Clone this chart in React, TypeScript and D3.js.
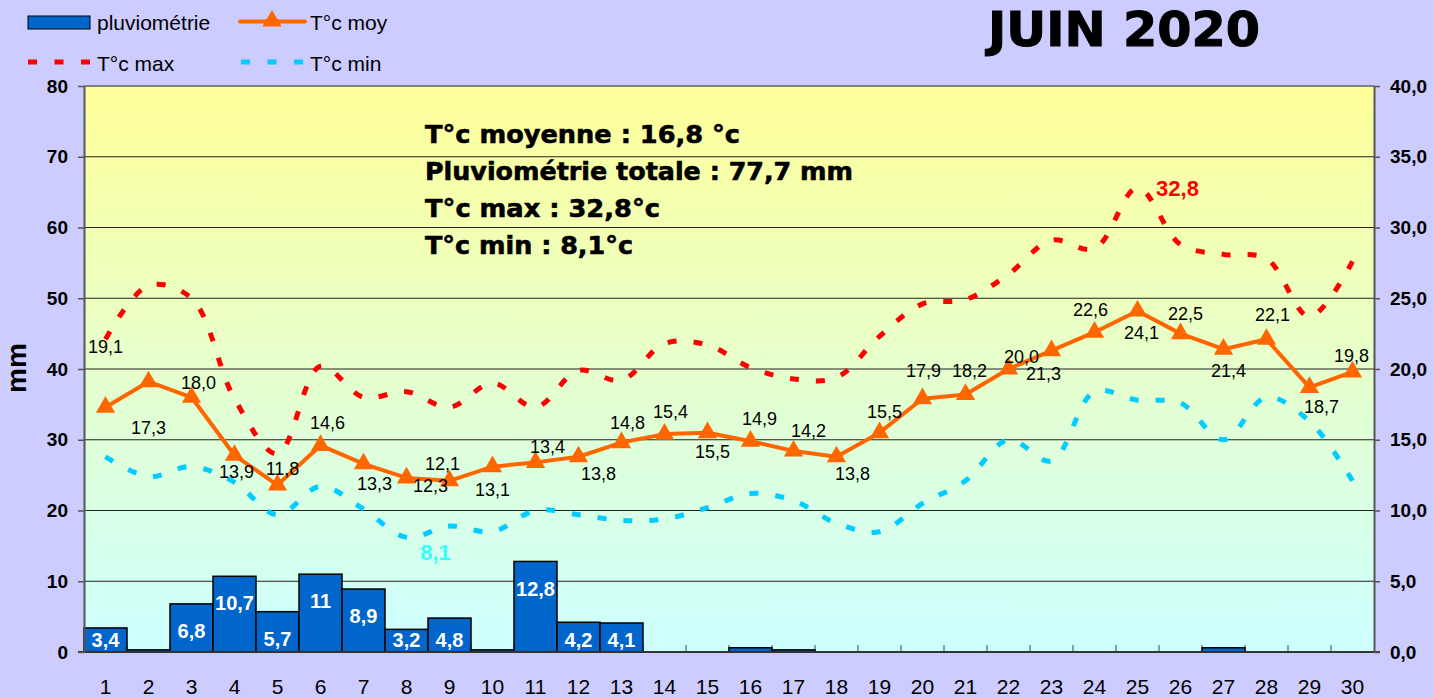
import React, { useEffect, useRef } from 'react';
import * as d3 from 'd3';

// June 2020 weather station summary
const days = ['1', '2', '3', '4', '5', '6', '7', '8', '9', '10', '11', '12', '13', '14', '15',
  '16', '17', '18', '19', '20', '21', '22', '23', '24', '25', '26', '27', '28', '29', '30'];

const rain = [3.4, 0.3, 6.8, 10.7, 5.7, 11, 8.9, 3.2, 4.8, 0.3, 12.8, 4.2, 4.1, 0, 0,
  0.6, 0.3, 0, 0, 0, 0, 0, 0, 0, 0, 0, 0.6, 0, 0, 0];

const tMoy = [17.3, 19.1, 18.0, 13.9, 11.8, 14.6, 13.3, 12.3, 12.1, 13.1, 13.4, 13.8, 14.8, 15.4, 15.5,
  14.9, 14.2, 13.8, 15.5, 17.9, 18.2, 20.0, 21.3, 22.6, 24.1, 22.5, 21.4, 22.1, 18.7, 19.8];

const tMax = [22.1, 25.9, 25.0, 17.9, 14.0, 20.2, 18.0, 18.4, 17.3, 19.0, 17.3, 19.9, 19.2, 21.8, 21.7,
  20.1, 19.3, 19.4, 22.3, 24.6, 24.9, 26.7, 29.1, 28.5, 32.8, 28.8, 28.1, 27.8, 23.7, 27.6];

const tMin = [13.8, 12.4, 13.1, 12.0, 9.7, 11.7, 10.1, 8.1, 8.9, 8.5, 10.0, 9.7, 9.3, 9.4, 10.2,
  11.2, 10.7, 9.1, 8.5, 10.5, 12.1, 15.0, 13.5, 18.4, 17.8, 17.6, 15.0, 18.0, 16.3, 12.1];

// labels as printed on the sheet (first two are swapped in the original)
const moyLabels = ['19,1', '17,3', '18,0', '13,9', '11,8', '14,6', '13,3', '12,3', '12,1', '13,1',
  '13,4', '13,8', '14,8', '15,4', '15,5', '14,9', '14,2', '13,8', '15,5', '17,9',
  '18,2', '20,0', '21,3', '22,6', '24,1', '22,5', '21,4', '22,1', '18,7', '19,8'];

const leftTicks = [0, 10, 20, 30, 40, 50, 60, 70, 80];
const rightTicks = [0, 5, 10, 15, 20, 25, 30, 35, 40];

const statLines = [
  'T°c moyenne : 16,8 °c',
  'Pluviométrie totale : 77,7 mm',
  'T°c max : 32,8°c',
  'T°c min : 8,1°c',
];

// layout nudges for the moy labels (px, relative to each point)
const labelNudge: [number, number][] = [
  [0, -61], [0, 46], [7, -15], [2, 16], [5, -17], [7, -23], [11, 20], [24, 8], [-7, -17], [0, 23],
  [12, -16], [20, 17], [6, -20], [6, -23], [5, 19], [9, -23], [15, -21], [16, 17], [5, -21], [1, -28],
  [4, -24], [13, -12], [-8, 23], [-4, -23], [4, 22], [5, -20], [5, 21], [6, -25], [12, 19], [-1, -16],
];

const W = 1433;
const H = 698;
const FONT = '"Liberation Sans", Arial, sans-serif';
const HEAVY = '"DejaVu Sans", "Liberation Sans", sans-serif';

const fmt1 = (v: number) => v.toFixed(1).replace('.', ',');

export default function App() {
  const svgRef = useRef<SVGSVGElement>(null);

  useEffect(() => {
    if (!svgRef.current) return;
    const svg = d3.select(svgRef.current);
    svg.selectAll('*').remove();

    const left = 84, right = 1374, top = 86, bottom = 652;

    const x = d3.scaleBand<string>().domain(days).range([left, right]).padding(0);
    const cx = (i: number) => (x(days[i]) as number) + x.bandwidth() / 2;
    const yL = d3.scaleLinear().domain([0, 80]).range([bottom, top]);
    const yR = d3.scaleLinear().domain([0, 40]).range([bottom, top]);

    // page background
    svg.append('rect').attr('width', W).attr('height', H).attr('fill', '#CCCCFF');

    const defs = svg.append('defs');
    const grad = defs.append('linearGradient').attr('id', 'plotBg')
      .attr('x1', 0).attr('y1', 0).attr('x2', 0).attr('y2', 1);
    grad.append('stop').attr('offset', '0%').attr('stop-color', '#FFFF99');
    grad.append('stop').attr('offset', '100%').attr('stop-color', '#CCFFFF');

    svg.append('rect')
      .attr('x', left).attr('y', top)
      .attr('width', right - left).attr('height', bottom - top)
      .attr('fill', 'url(#plotBg)');

    // gridlines
    svg.append('g').selectAll('line')
      .data(leftTicks.filter(t => t > 0 && t < 80))
      .enter().append('line')
      .attr('x1', left).attr('x2', right)
      .attr('y1', d => yL(d)).attr('y2', d => yL(d))
      .attr('stroke', '#222').attr('stroke-width', 1);

    svg.append('line')
      .attr('x1', left).attr('x2', right).attr('y1', top).attr('y2', top)
      .attr('stroke', '#808080').attr('stroke-width', 2);

    // category boundary ticks (inside)
    svg.append('g').selectAll('line')
      .data(days.slice(1))
      .enter().append('line')
      .attr('x1', d => x(d) as number).attr('x2', d => x(d) as number)
      .attr('y1', bottom).attr('y2', bottom - 7)
      .attr('stroke', '#444').attr('stroke-width', 1);

    // rain bars
    const barData = rain.map((v, i) => ({ v, i })).filter(d => d.v > 0);
    svg.append('g').selectAll('rect')
      .data(barData)
      .enter().append('rect')
      .attr('x', d => x(days[d.i]) as number)
      .attr('y', d => yL(d.v))
      .attr('width', x.bandwidth())
      .attr('height', d => bottom - yL(d.v))
      .attr('fill', '#0066CC')
      .attr('stroke', '#000')
      .attr('stroke-width', 1.5);

    svg.append('g').selectAll('text')
      .data(barData.filter(d => d.v >= 1))
      .enter().append('text')
      .attr('x', d => cx(d.i))
      .attr('y', d => Math.min(yL(d.v) + 27, bottom - 12))
      .attr('dy', '0.36em')
      .attr('text-anchor', 'middle')
      .attr('font-family', FONT)
      .attr('font-weight', 'bold')
      .attr('font-size', 20)
      .attr('fill', '#fff')
      .text(d => (d.v % 1 === 0 ? String(d.v) : fmt1(d.v)));

    // bottom axis line
    svg.append('line')
      .attr('x1', left - 6).attr('x2', right + 6).attr('y1', bottom).attr('y2', bottom)
      .attr('stroke', '#333').attr('stroke-width', 2);

    // temperature lines
    const smooth = d3.line<number>()
      .x((_, i) => cx(i))
      .y(d => yR(d))
      .curve(d3.curveCatmullRom.alpha(0.5));

    const straight = d3.line<number>()
      .x((_, i) => cx(i))
      .y(d => yR(d));

    svg.append('path')
      .datum(tMoy)
      .attr('d', straight)
      .attr('fill', 'none')
      .attr('stroke', '#FF6600')
      .attr('stroke-width', 4)
      .attr('stroke-linejoin', 'round');

    svg.append('path')
      .datum(tMax)
      .attr('d', smooth)
      .attr('fill', 'none')
      .attr('stroke', '#FF0000')
      .attr('stroke-width', 5)
      .attr('stroke-dasharray', '9,17');

    svg.append('path')
      .datum(tMin)
      .attr('d', smooth)
      .attr('fill', 'none')
      .attr('stroke', '#00CCFF')
      .attr('stroke-width', 5)
      .attr('stroke-dasharray', '9,17');

    const tri = d3.symbol().type(d3.symbolTriangle).size(160);
    svg.append('g').selectAll('path')
      .data(tMoy)
      .enter().append('path')
      .attr('d', tri as any)
      .attr('transform', (d, i) => `translate(${cx(i)},${yR(d)})`)
      .attr('fill', '#FF6600');

    svg.append('g').selectAll('text')
      .data(moyLabels)
      .enter().append('text')
      .attr('x', (_, i) => cx(i) + labelNudge[i][0])
      .attr('y', (_, i) => yR(tMoy[i]) + labelNudge[i][1])
      .attr('dy', '0.36em')
      .attr('text-anchor', 'middle')
      .attr('font-family', FONT)
      .attr('font-size', 18)
      .attr('fill', '#000')
      .text(d => d);

    // extreme labels
    const iMax = tMax.indexOf(d3.max(tMax) as number);
    const iMin = tMin.indexOf(d3.min(tMin) as number);
    svg.append('text')
      .attr('x', cx(iMax) + 40).attr('y', yR(tMax[iMax]))
      .attr('dy', '0.36em')
      .attr('text-anchor', 'middle')
      .attr('font-family', FONT).attr('font-weight', 'bold').attr('font-size', 22)
      .attr('fill', '#FF0000')
      .text(fmt1(tMax[iMax]));
    svg.append('text')
      .attr('x', cx(iMin) + 29).attr('y', yR(tMin[iMin]) + 15)
      .attr('dy', '0.36em')
      .attr('text-anchor', 'middle')
      .attr('font-family', FONT).attr('font-weight', 'bold').attr('font-size', 22)
      .attr('fill', '#33FFFF')
      .text(fmt1(tMin[iMin]));

    // axes
    const axL = svg.append('g')
      .attr('transform', `translate(${left},0)`)
      .call(d3.axisLeft(yL).tickValues(leftTicks).tickSize(6).tickSizeOuter(0).tickPadding(10));
    const axR = svg.append('g')
      .attr('transform', `translate(${right},0)`)
      .call(d3.axisRight(yR).tickValues(rightTicks).tickSize(6).tickSizeOuter(0).tickPadding(10)
        .tickFormat(d => fmt1(d as number)));
    [axL, axR].forEach(ax => {
      ax.select('.domain').attr('stroke', '#555').attr('stroke-width', 2);
      ax.selectAll('.tick line').attr('stroke', '#555').attr('stroke-width', 1.5);
      ax.selectAll('.tick text')
        .attr('font-family', FONT).attr('font-weight', 'bold').attr('font-size', 19).attr('fill', '#000');
    });

    const axB = svg.append('g')
      .attr('transform', `translate(0,${bottom})`)
      .call(d3.axisBottom(x).tickSize(0).tickPadding(27));
    axB.select('.domain').remove();
    axB.selectAll('.tick text')
      .attr('font-family', FONT).attr('font-size', 21).attr('fill', '#000');

    // y title
    svg.append('text')
      .attr('transform', `translate(26,${(top + bottom) / 2 - 1}) rotate(-90)`)
      .attr('text-anchor', 'middle')
      .attr('font-family', FONT).attr('font-weight', 'bold').attr('font-size', 28)
      .text('mm');

    // stats block
    const statLen = [315, 428, 235, 208];
    svg.append('g').selectAll('text')
      .data(statLines)
      .enter().append('text')
      .attr('x', 425)
      .attr('y', (_, i) => 143 + i * 37)
      .attr('font-family', HEAVY).attr('font-weight', 'bold').attr('font-size', 25)
      .attr('textLength', (_, i) => statLen[i])
      .attr('lengthAdjust', 'spacingAndGlyphs')
      .attr('fill', '#000')
      .attr('stroke', '#000').attr('stroke-width', 0.6)
      .text(d => d);

    // title
    svg.append('text')
      .attr('x', 988).attr('y', 46)
      .attr('font-family', HEAVY).attr('font-weight', 'bold').attr('font-size', 48)
      .attr('textLength', 272).attr('lengthAdjust', 'spacingAndGlyphs')
      .attr('fill', '#000')
      .attr('stroke', '#000').attr('stroke-width', 1)
      .text('JUIN 2020');

    // legend
    const lg = svg.append('g');
    const legendText = (tx: number, ty: number, s: string) =>
      lg.append('text').attr('x', tx).attr('y', ty)
        .attr('font-family', FONT).attr('font-size', 21).attr('fill', '#000').text(s);

    lg.append('rect').attr('x', 28).attr('y', 16).attr('width', 62).attr('height', 13)
      .attr('fill', '#0066CC').attr('stroke', '#000').attr('stroke-width', 1);
    legendText(97, 30, 'pluviométrie');

    lg.append('line').attr('x1', 240).attr('x2', 305).attr('y1', 21.5).attr('y2', 21.5)
      .attr('stroke', '#FF6600').attr('stroke-width', 4).attr('stroke-linecap', 'round');
    lg.append('path').attr('d', tri as any).attr('transform', 'translate(272,21)').attr('fill', '#FF6600');
    legendText(310, 30, 'T°c moy');

    lg.append('line').attr('x1', 28).attr('x2', 90).attr('y1', 62).attr('y2', 62)
      .attr('stroke', '#FF0000').attr('stroke-width', 5).attr('stroke-dasharray', '9,17.5');
    legendText(97, 71, 'T°c max');

    lg.append('line').attr('x1', 241).attr('x2', 303).attr('y1', 62).attr('y2', 62)
      .attr('stroke', '#00CCFF').attr('stroke-width', 5).attr('stroke-dasharray', '9,17.5');
    legendText(310, 71, 'T°c min');
  }, []);

  return (
    <div style={{ position: 'absolute', left: 0, top: 0 }}>
      <style>{'body{margin:0}'}</style>
      <svg ref={svgRef} width={W} height={H} style={{ display: 'block' }} />
    </div>
  );
}
